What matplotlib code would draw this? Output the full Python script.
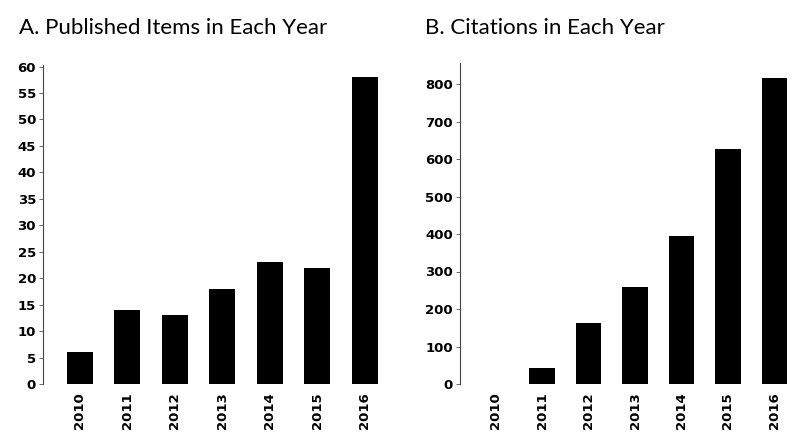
import matplotlib
matplotlib.use('Agg')
import matplotlib.pyplot as plt
import numpy as np

# data
years = ['2010', '2011', '2012', '2013', '2014', '2015', '2016']
published = [6, 14, 13, 18, 23, 22, 58]
citations = [0, 43, 163, 258, 395, 627, 816]

pub_ticks = list(range(0, 61, 5))
cit_ticks = list(range(0, 801, 100))

title_font = ['Lato', 'DejaVu Sans']
tick_font = ['DejaVu Sans']

fig = plt.figure(figsize=(8, 4.43), dpi=100)

def style(ax, ticks, ymax, xmax):
    x = np.arange(len(years))
    ax.set_xlim(-0.77, xmax)
    ax.set_ylim(0, ymax)
    ax.set_yticks(ticks)
    ax.set_xticks(x)
    ax.set_xticklabels(years, rotation=90, family=tick_font, fontsize=9.5,
                       fontweight='bold')
    for lab in ax.get_yticklabels():
        lab.set_family(tick_font)
        lab.set_fontsize(9.5)
        lab.set_fontweight('bold')
    ax.tick_params(axis='y', length=3, width=0.6, color='#555555', pad=2)
    ax.tick_params(axis='x', length=0, pad=6)
    for s in ['top', 'right', 'bottom']:
        ax.spines[s].set_visible(False)
    ax.spines['left'].set_color('#444444')
    ax.spines['left'].set_linewidth(0.8)

# A. published items
ax1 = fig.add_axes([43/800, 59/443, 341/800, 319/443])
ax1.bar(np.arange(len(years)), published, width=0.55, color='black')
style(ax1, pub_ticks, 60.3, 6.4)

# B. citations
ax2 = fig.add_axes([460/800, 59/443, 333/800, 321/443])
ax2.bar(np.arange(len(years)), citations, width=0.55, color='black')
style(ax2, cit_ticks, 856, 6.4)

fig.text(19/800, 1 - 28/443, 'A. Published Items in Each Year',
         family=title_font, fontsize=16, va='center', ha='left')
fig.text(425/800, 1 - 28/443, 'B. Citations in Each Year',
         family=title_font, fontsize=16, va='center', ha='left')

fig.savefig('out.png', dpi=100)
